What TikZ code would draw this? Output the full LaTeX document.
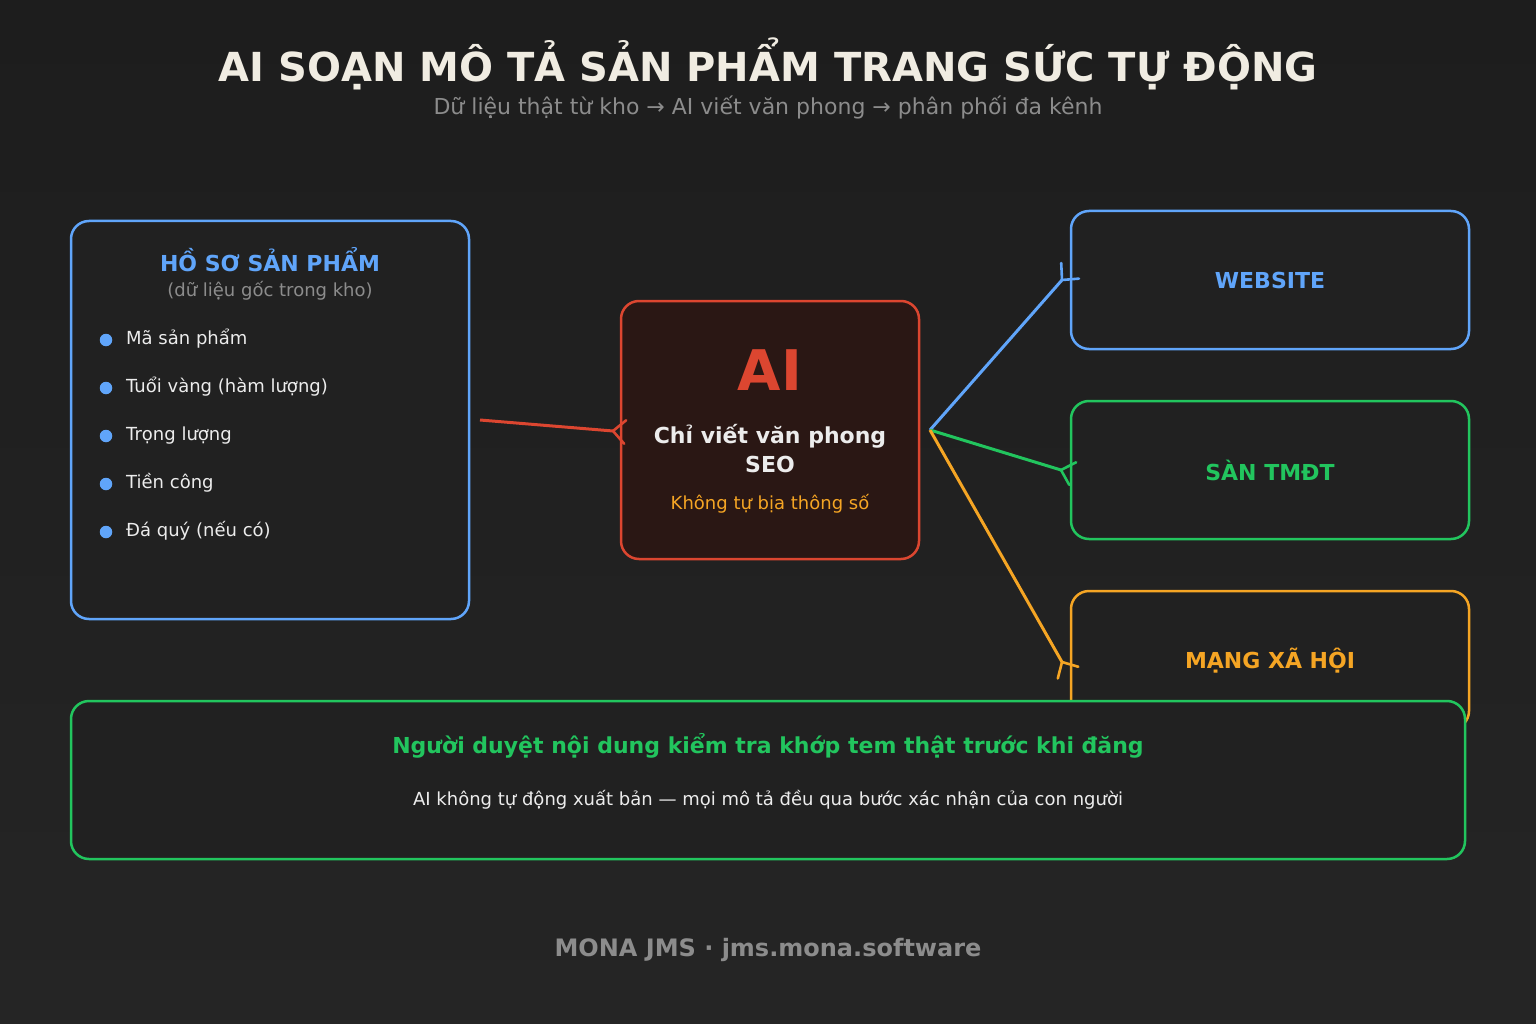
\documentclass[tikz,border=0pt]{standalone}
\usepackage{fontspec}
\setmainfont{DejaVu Sans}
\usetikzlibrary{calc}
\definecolor{bgtop}{HTML}{1D1D1D}
\definecolor{bgbot}{HTML}{252525}
\definecolor{boxfill}{HTML}{212121}
\definecolor{cblue}{HTML}{60A5FA}
\definecolor{cgreen}{HTML}{22C55E}
\definecolor{corange}{HTML}{F5A524}
\definecolor{cred}{HTML}{DC4630}
\definecolor{redfill}{HTML}{2A1714}
\definecolor{cream}{HTML}{F0ECE2}
\definecolor{cgray}{HTML}{8C8C8C}
\definecolor{ctext}{HTML}{ECECEC}
\newcommand{\fs}[1]{\fontsize{#1}{#1}\selectfont}
\newcommand{\barbtip}[3]{% apex, from, colour
  \draw[#3,line width=2.6pt,line cap=round] ($(#1)!-17pt!44:(#2)$) -- (#1) -- ($(#1)!-17pt!-44:(#2)$);}
\tikzset{
  panel/.style={draw=#1,line width=2.5pt,rounded corners=18pt,fill=boxfill},
  txt/.style={anchor=base,inner sep=0pt,text=ctext},
  conn/.style={draw=#1,line width=3pt},
  dot/.style={circle,fill=cblue,inner sep=0pt,minimum size=12.5pt}
}
\begin{document}
\begin{tikzpicture}[x=1pt,y=-1pt]
\useasboundingbox (0,0) rectangle (1536,1024);
\shade[top color=bgtop,bottom color=bgbot] (0,0) rectangle (1536,1024);

% title
\node[txt,text=cream] (title) at (768,82) {\fs{40}\bfseries AI SOẠN MÔ TẢ SẢN PHẨM TRANG SỨC TỰ ĐỘNG};
\node[txt,text=cgray] (subtitle) at (768,115) {\fs{22}Dữ liệu thật từ kho → AI viết văn phong → phân phối đa kênh};

% left panel
\draw[panel=cblue] (71,221) rectangle (469,619);
\node[txt,text=cblue] (lt) at (270,272) {\fs{22}\bfseries HỒ SƠ SẢN PHẨM};
\node[txt,text=cgray] (ls) at (270,297) {\fs{18}(dữ liệu gốc trong kho)};
\foreach \y/\t [count=\i] in {340/Mã sản phẩm,388/Tuổi vàng (hàm lượng),436/Trọng lượng,484/Tiền công,532/Đá quý (nếu có)}{
  \node[dot] (d\i) at (106,\y) {};
  \node[txt,anchor=base west] (b\i) at (126,\y+4) {\fs{18}\t};
}

% center
\draw[panel=cred,fill=redfill] (621,301) rectangle (919,559);
\node[txt,text=cred] (ai) at (770,390) {\fs{56}\bfseries AI};
\node[txt,text=ctext] (c1) at (770,443) {\fs{22}\bfseries Chỉ viết văn phong};
\node[txt,text=ctext] (c2) at (770,472) {\fs{22}\bfseries SEO};
\node[txt,text=corange] (c3) at (770,509) {\fs{18}Không tự bịa thông số};

% right panels
\draw[panel=cblue] (1071,211) rectangle (1469,349);
\node[txt,text=cblue] (web) at (1270,288) {\fs{22}\bfseries WEBSITE};
\draw[panel=cgreen] (1071,401) rectangle (1469,539);
\node[txt,text=cgreen] (san) at (1270,480) {\fs{22}\bfseries SÀN TMĐT};
\draw[panel=corange] (1071,591) rectangle (1469,729);
\node[txt,text=corange] (mxh) at (1270,668) {\fs{22}\bfseries MẠNG XÃ HỘI};

% connectors
\coordinate (rs) at (480,420);
\coordinate (ra) at (613,431);
\coordinate (hub) at (930,430);
\coordinate (ba) at (1062,280);
\coordinate (ga) at (1061,470);
\coordinate (oa) at (1062,662);
\draw[conn=cred] (rs) -- (ra);
\barbtip{ra}{rs}{cred}
\draw[conn=cblue] (hub) -- (ba);
\barbtip{ba}{hub}{cblue}
\draw[conn=cgreen] (hub) -- (ga);
\barbtip{ga}{hub}{cgreen}
\draw[conn=corange] (hub) -- (oa);
\barbtip{oa}{hub}{corange}

% bottom panel
\draw[panel=cgreen] (71,701) rectangle (1465,859);
\node[txt,text=cgreen] (bt) at (768,753) {\fs{22}\bfseries Người duyệt nội dung kiểm tra khớp tem thật trước khi đăng};
\node[txt,text=ctext] (bs) at (768,805) {\fs{18}AI không tự động xuất bản — mọi mô tả đều qua bước xác nhận của con người};

% footer
\node[txt,text=cgray] (foot) at (768,956) {\fs{24}\bfseries MONA JMS · jms.mona.software};
\end{tikzpicture}
\end{document}
